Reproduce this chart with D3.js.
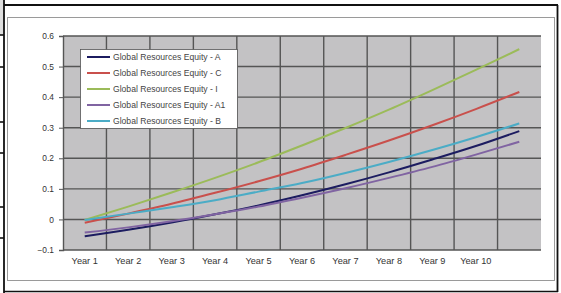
<!DOCTYPE html>
<html><head><meta charset="utf-8">
<script src="https://cdn.jsdelivr.net/npm/d3@7/dist/d3.min.js"></script>
<style>html,body{margin:0;padding:0;background:#fff;}svg{display:block;}</style>
</head><body>
<script>
const categories = ["Year 1","Year 2","Year 3","Year 4","Year 5","Year 6","Year 7","Year 8","Year 9","Year 10",""];
const seriesNames = ["Global Resources Equity - A","Global Resources Equity - C","Global Resources Equity - I","Global Resources Equity - A1","Global Resources Equity - B"];
const seriesA  = [-0.055,-0.034,-0.010,0.017,0.046,0.079,0.115,0.154,0.196,0.240,0.289];
const seriesC  = [-0.011,0.019,0.051,0.087,0.125,0.166,0.211,0.258,0.308,0.361,0.417];
const seriesI  = [-0.002,0.042,0.088,0.136,0.187,0.242,0.299,0.359,0.423,0.489,0.557];
const seriesA1 = [-0.043,-0.026,-0.006,0.017,0.042,0.071,0.102,0.136,0.172,0.212,0.254];
const seriesB  = [-0.002,0.019,0.040,0.063,0.091,0.119,0.152,0.188,0.227,0.269,0.314];
const yTicks = [-0.1,0,0.1,0.2,0.3,0.4,0.5,0.6];
const colors = ["#1c1c60","#c9504c","#9bbb59","#8064a2","#4bacc6"];
const allSeries = [seriesA, seriesC, seriesI, seriesA1, seriesB];

const W=561,H=293;
const svg=d3.select("body").append("svg").attr("width",W).attr("height",H);
const font="'Liberation Sans', Arial, sans-serif";

// outer frame / table remnants
svg.append("rect").attr("x",0).attr("y",0).attr("width",4).attr("height",35).attr("fill","#dedede");
[35,67,122,153,207,238].forEach(y=>svg.append("line").attr("x1",0).attr("x2",4).attr("y1",y).attr("y2",y).attr("stroke","#111").attr("stroke-width",1.6));
svg.append("line").attr("x1",4).attr("x2",4).attr("y1",0).attr("y2",293).attr("stroke","#111").attr("stroke-width",1.8);
svg.append("line").attr("x1",4).attr("x2",558).attr("y1",5).attr("y2",5).attr("stroke","#111").attr("stroke-width",1.8);
svg.append("line").attr("x1",557.5).attr("x2",557.5).attr("y1",5).attr("y2",292).attr("stroke","#111").attr("stroke-width",1.8);
svg.append("line").attr("x1",4).attr("x2",558).attr("y1",291.5).attr("y2",291.5).attr("stroke","#111").attr("stroke-width",1.6);
svg.append("rect").attr("x",7.5).attr("y",17.5).attr("width",547).attr("height",263).attr("fill","#fff").attr("stroke","#9a9a9a").attr("stroke-width",1);

// plot
const L=63,R=541,T=36,B=250;
const x=d3.scaleBand().domain(categories.map((c,i)=>i)).range([L,R]).padding(0);
const y=d3.scaleLinear().domain([-0.1,0.6]).range([B,T]);

svg.append("rect").attr("x",L).attr("y",T).attr("width",R-L).attr("height",B-T).attr("fill","#c3c2c4");

const g=svg.append("g");
g.selectAll(".hg").data(yTicks).join("line")
  .attr("x1",L).attr("x2",R).attr("y1",d=>y(d)).attr("y2",d=>y(d))
  .attr("stroke","#555").attr("stroke-width",1.4);
g.selectAll(".vg").data(d3.range(1,categories.length)).join("line")
  .attr("x1",d=>x(d)).attr("x2",d=>x(d)).attr("y1",T).attr("y2",B)
  .attr("stroke","#555").attr("stroke-width",1.4);

// y axis
const yAxis=d3.axisLeft(y).tickValues(yTicks).tickSize(4).tickPadding(5)
  .tickFormat(d=>d===0?"0":d3.format(".1f")(d));
const ya=svg.append("g").attr("transform",`translate(${L},0)`).call(yAxis);
ya.select(".domain").attr("stroke","#555").attr("stroke-width",1.4);
ya.selectAll(".tick line").attr("stroke","#555");
ya.selectAll("text").attr("font-family",font).attr("font-size","8.4px").attr("fill","#333");

// x axis labels
const xAxis=d3.axisBottom(x).tickSize(0).tickPadding(7).tickFormat(i=>categories[i]);
const xa=svg.append("g").attr("transform",`translate(0,${B})`).call(xAxis);
xa.select(".domain").remove();
xa.selectAll("text").attr("font-family",font).attr("font-size","9.2px").attr("fill","#333");

// lines
const line=d3.line().x((d,i)=>x(i)+x.bandwidth()/2).y(d=>y(d)).curve(d3.curveMonotoneX);
allSeries.forEach((s,k)=>{
  svg.append("path").attr("d",line(s)).attr("fill","none").attr("stroke",colors[k]).attr("stroke-width",2);
});

// legend
const lg=svg.append("g");
lg.append("rect").attr("x",80.5).attr("y",49.5).attr("width",157).attr("height",79).attr("fill","#fff").attr("stroke","#555").attr("stroke-width",0.8);
seriesNames.forEach((n,k)=>{
  const yy=57+k*16;
  lg.append("line").attr("x1",87).attr("x2",110).attr("y1",yy).attr("y2",yy).attr("stroke",colors[k]).attr("stroke-width",2);
  lg.append("text").attr("x",113).attr("y",yy).attr("dy","0.35em").attr("font-family",font).attr("font-size","8.6px").attr("fill","#444").text(n);
});
</script>
</body></html>
